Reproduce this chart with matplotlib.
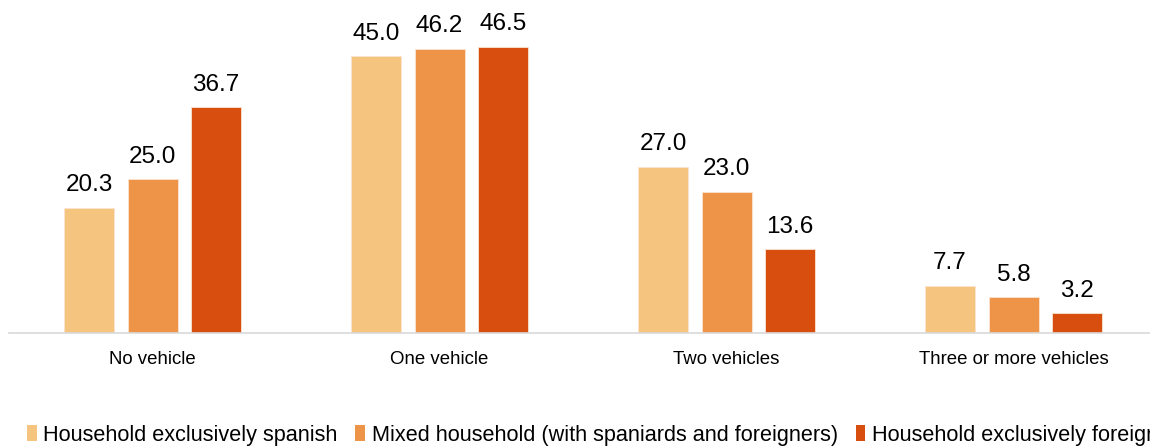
import matplotlib.pyplot as plt
import numpy as np
from matplotlib.patches import Patch

plt.rcParams['font.family'] = ['Liberation Sans', 'DejaVu Sans']

categories = ["No vehicle", "One vehicle", "Two vehicles", "Three or more vehicles"]
series_names = ["Household exclusively spanish",
                "Mixed household (with spaniards and foreigners)",
                "Household exclusively foreigners"]
spanish = [20.3, 45.0, 27.0, 7.7]
mixed = [25.0, 46.2, 23.0, 5.8]
foreign = [36.7, 46.5, 13.6, 3.2]
colors = ["#F5C47F", "#EE9449", "#D74E0E"]


def main():
    fig = plt.figure(figsize=(11.5, 4.48), dpi=100)
    ax = fig.add_axes([9 / 1150, 1 - 333 / 448, 1148 / 1150, 307.5 / 448])

    x = np.arange(len(categories))
    width = 50 / 287
    step = 63.5 / 287

    for i, (vals, col) in enumerate(zip([spanish, mixed, foreign], colors)):
        pos = x + (i - 1) * step
        bars = ax.bar(pos, vals, width, color=col, edgecolor="#FBE3CF", linewidth=0.6)
        for b, v in zip(bars, vals):
            ax.text(b.get_x() + b.get_width() / 2, v + 1.9, f"{v:.1f}",
                    ha="center", va="bottom", fontsize=17.5)

    ax.set_xlim(-0.5, 3.5)
    ax.set_ylim(0, 50)
    ax.set_xticks(x)
    ax.set_xticklabels(categories, fontsize=13.4)
    ax.tick_params(axis="x", length=0, pad=13)
    ax.set_yticks([])
    for s in ["top", "right", "left"]:
        ax.spines[s].set_visible(False)
    ax.spines["bottom"].set_color("#D9D9D9")
    ax.spines["bottom"].set_linewidth(1.2)

    handles = [Patch(facecolor=c, edgecolor="none") for c in colors]
    fig.legend(handles, series_names, loc="center left",
               bbox_to_anchor=(27 / 1150, 1 - 435 / 448), ncol=3, frameon=False,
               fontsize=15.6, handlelength=0.45, handleheight=0.75,
               handletextpad=0.3, columnspacing=0.82, borderaxespad=0, borderpad=0)

    fig.savefig("out.png", dpi=100)


if __name__ == "__main__":
    main()
